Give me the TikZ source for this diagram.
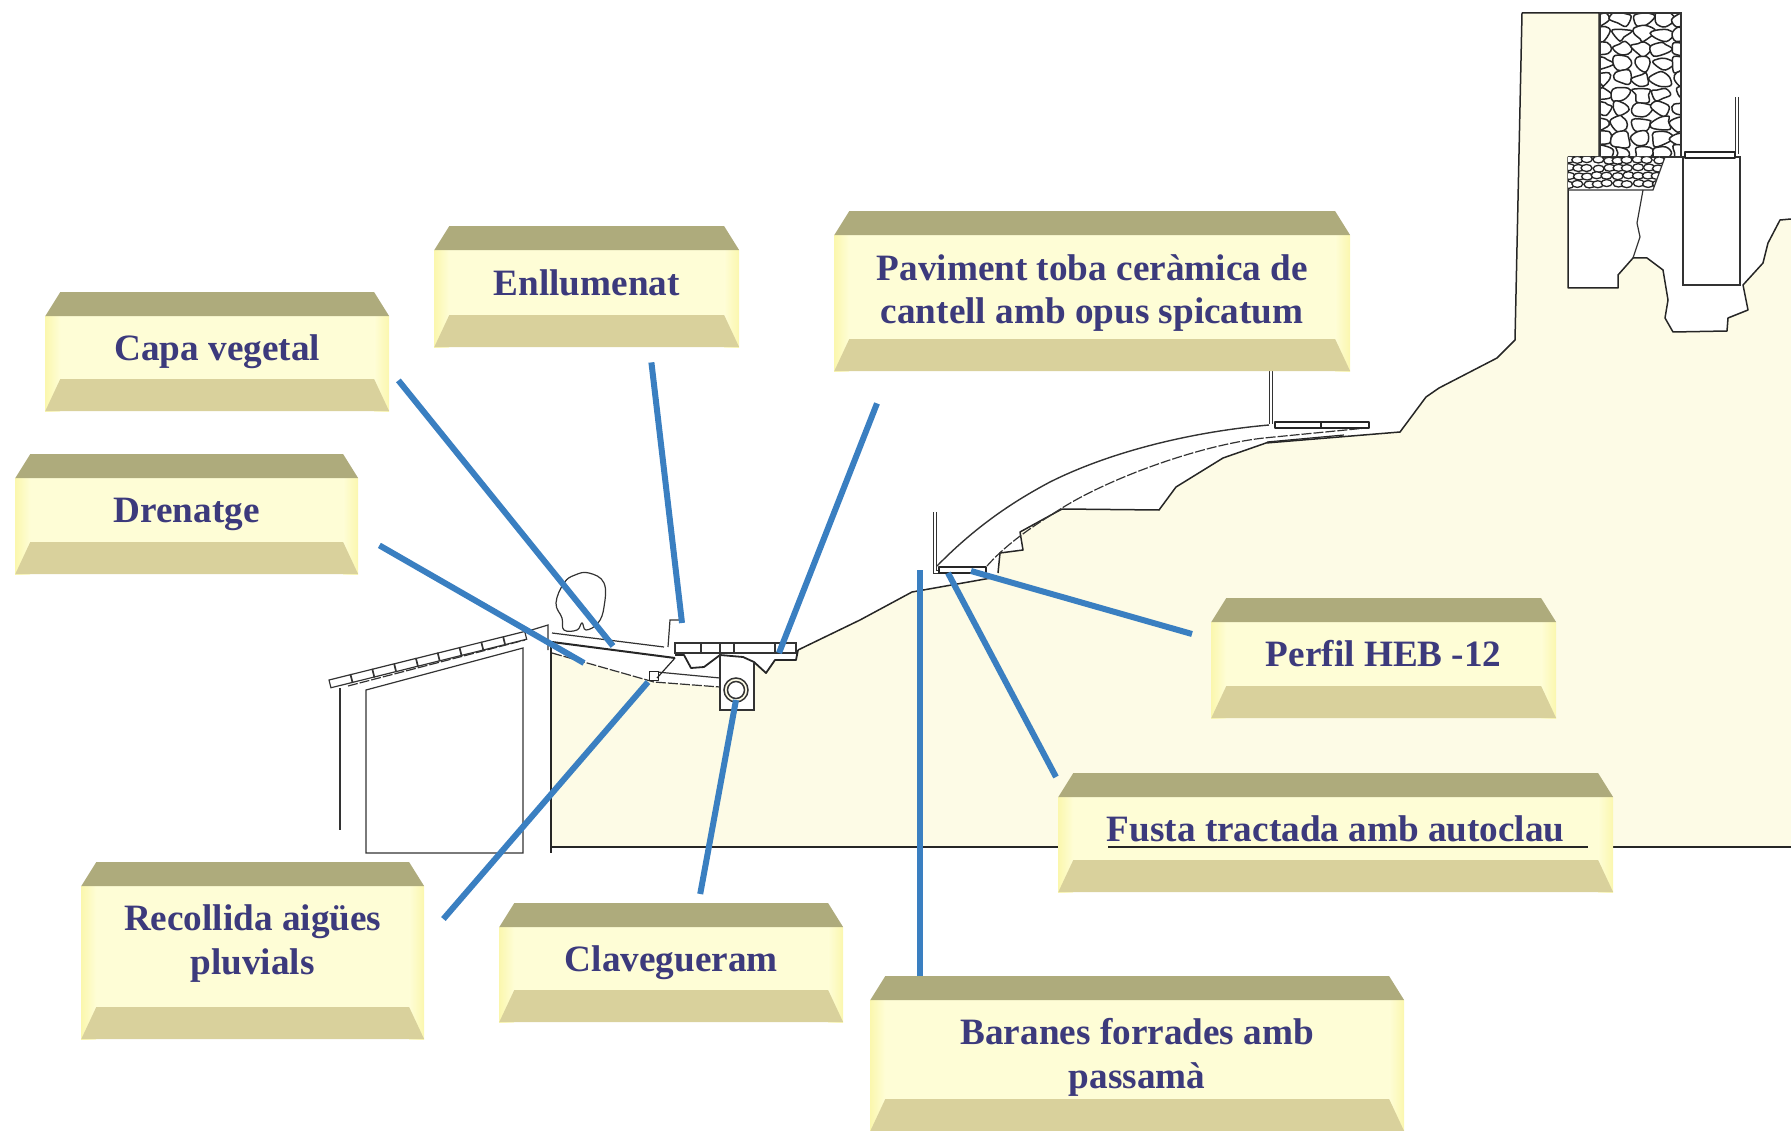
\documentclass[tikz,border=0pt]{standalone}
\usepackage{fontspec}
\setmainfont{Liberation Serif}
\definecolor{groundfill}{HTML}{FDFBE6}
\definecolor{bandtop}{HTML}{AEAB7C}
\definecolor{bandlow}{HTML}{D9D19C}
\definecolor{sideyellow}{HTML}{FBF7AE}
\definecolor{midyellow}{HTML}{FEFDD6}
\definecolor{labelblue}{HTML}{3C3A7C}
\definecolor{leaderblue}{HTML}{3A7FC1}
\newcommand{\rubble}[4]{% centre x, centre y, half width, half height
    \draw[stone] plot[smooth cycle,tension=0.6] coordinates {
        ({#1+#3+rand},{#2+0.3*rand}) ({#1+0.5*#3+rand},{#2+#4+rand}) ({#1-0.5*#3+rand},{#2+#4+rand})
        ({#1-#3+rand},{#2+0.3*rand}) ({#1-0.5*#3+rand},{#2-#4+rand}) ({#1+0.5*#3+rand},{#2-#4+rand})};
}
\tikzset{
    lbl/.style={rectangle,inner sep=0pt,align=center,text=labelblue,
        font=\fontsize{37.2}{43.5}\selectfont\bfseries,text height=26pt,text depth=9pt,
        path picture={
            \fill[midyellow] ([yshift=-24pt]path picture bounding box.north west) rectangle (path picture bounding box.south east);
            \shade[left color=sideyellow,right color=midyellow] ([yshift=-24pt]path picture bounding box.north west) rectangle ([xshift=15pt]path picture bounding box.south west);
            \shade[left color=midyellow,right color=sideyellow] ([shift={(-15pt,-24pt)}]path picture bounding box.north east) rectangle (path picture bounding box.south east);
            \fill[bandtop] ([xshift=15pt]path picture bounding box.north west) -- ([xshift=-15pt]path picture bounding box.north east)
                -- ([yshift=-24pt]path picture bounding box.north east) -- ([yshift=-24pt]path picture bounding box.north west) -- cycle;
            \fill[bandlow] (path picture bounding box.south west) -- (path picture bounding box.south east)
                -- ([shift={(-15pt,32pt)}]path picture bounding box.south east) -- ([shift={(15pt,32pt)}]path picture bounding box.south west) -- cycle;
        }},
    twolines/.style={text height=69.5pt,text depth=4.5pt},
    leader/.style={draw=leaderblue,line width=6pt},
    sketch/.style={draw=black!85,line width=1.5pt,line join=round},
    thinline/.style={draw=black!80,line width=1.2pt},
    dashline/.style={draw=black!80,line width=1.2pt,dash pattern=on 10pt off 2pt},
    stone/.style={draw=black!85,line width=1.5pt,fill=white},
}
\begin{document}
\begin{tikzpicture}[x=1pt,y=-1pt]
    \useasboundingbox (0,0) rectangle (1791,1131);

    % ground
    \fill[groundfill] (551,652) -- (582,662) -- (654,682) -- (720,687) -- (720,711) -- (754,711) -- (754,663) -- (766,673)
        -- (775,660) -- (796,659) -- (798,650) -- (860,620) -- (912,592) -- (991,578) -- (998,573) -- (1000,553) -- (1023,550)
        -- (1020,532) -- (1062,509) -- (1159,510) -- (1176,487) -- (1223,458) -- (1266,443) -- (1400,432) -- (1426,397) -- (1439,388)
        -- (1497,358) -- (1515,340) -- (1522,13) -- (1599,13) -- (1599,157) -- (1568,157) -- (1568,288) -- (1618,288) -- (1618,275)
        -- (1633,258) -- (1647,258) -- (1663,270) -- (1668,300) -- (1665,318) -- (1673,332) -- (1727,331) -- (1728,318) -- (1748,310)
        -- (1743,285) -- (1763,263) -- (1768,243) -- (1780,220) -- (1791,219) -- (1791,847) -- (551,847) -- cycle;
    \draw[sketch,line width=2pt] (551,643) -- (551,853);
    \draw[sketch,line width=2pt] (551,847) -- (1791,847);

    % terrain profile
    \draw[sketch] (798,650) -- (860,620) -- (912,592) -- (991,578);
    \draw[sketch] (998,573) -- (1000,553) -- (1023,550) -- (1020,532) -- (1062,509) -- (1159,510) -- (1176,487) -- (1223,458) -- (1266,443)
        -- (1400,432) -- (1426,397) -- (1439,388) -- (1497,358) -- (1515,340) -- (1522,13) -- (1599,13) -- (1599,157) -- (1568,157)
        -- (1568,288) -- (1618,288) -- (1618,275) -- (1633,258) -- (1647,258) -- (1663,270) -- (1668,300) -- (1665,318) -- (1673,332)
        -- (1727,331) -- (1728,318) -- (1748,310) -- (1743,285) -- (1763,263) -- (1768,243) -- (1780,220) -- (1791,219);

    % masonry
    \pgfmathsetseed{11}
    \begin{scope}
        \clip (1600,13) rectangle (1681,157);
        \foreach \y in {18,33,...,155} {
            \foreach \x in {1600,1620,...,1690} {
                \rubble{\x+3*rand}{\y+2*rand}{9+4*rnd}{6+2*rnd}
            }
        }
    \end{scope}
    \draw[thinline] (1600,13) rectangle (1681,157);
    \begin{scope}
        \clip (1568,157) -- (1665,157) -- (1653,190) -- (1568,190) -- cycle;
        \foreach \y in {160,168,...,190} {
            \foreach \x in {1568,1578,...,1665} {
                \draw[stone,line width=1.3pt] ({\x+1.5*rand},{\y+rand}) ellipse (5.5 and 3.5);
            }
        }
    \end{scope}
    \draw[thinline] (1643,190) -- (1637,223) -- (1640,237) -- (1633,258);
    \draw[thinline] (1665,157) -- (1653,190) -- (1568,190);
    \draw[thinline] (1683,157) rectangle (1740,285);
    \draw[thinline,line width=1.5pt,double=white,double distance=1.5pt] (1737,97) -- (1737,154);
    \draw[sketch,fill=white,line width=1.2pt] (1685,152) rectangle (1735,158);

    % arch and stairs
    \draw[thinline,line width=1.4pt] (937,566) .. controls (980,522) and (1020,498) .. (1050,482) .. controls (1110,452) and (1190,432) .. (1269,425);
    \draw[dashline] (987,566) .. controls (1010,540) and (1040,522) .. (1062,508) .. controls (1110,478) and (1200,445) .. (1264,438) -- (1366,428);
    \draw[thinline,line width=1.5pt,double=white,double distance=1.5pt] (935,512) -- (935,572) -- (939,572);
    \draw[thinline,line width=1.5pt,double=white,double distance=1.5pt] (1271,370) -- (1271,424);
    \draw[sketch,fill=white,line width=1.2pt] (939,567) rectangle (986,573);
    \draw[sketch,fill=white,line width=1.2pt] (1275,422) rectangle (1369,428);
    \draw[sketch,line width=1.2pt] (1321,422) -- (1321,428);
    \draw[sketch,line width=1.2pt] (1267,442) -- (1344,435);

    % building and roof
    \draw[thinline,line width=1.3pt] (340,688) -- (340,830);
    \draw[thinline] (366,853) -- (366,690) -- (523,648) -- (523,853) -- cycle;
    \draw[dashline] (348,686) -- (525,640);
    \draw[thinline] (525,632) -- (548,625) -- (548,650);
    \foreach \t in {0,1,...,8} {
        \draw[thinline,fill=white,rotate around={14:({329+\t*21.8},{680-\t*5.4})}] ({329+\t*21.8},{680-\t*5.4}) rectangle ++(22,8);
    }

    % tree
    \draw[thinline] plot[smooth cycle,tension=0.7] coordinates {(564,630) (562,618) (556,603) (564,583) (575,575) (589,573) (604,583) (604,607) (598,623) (586,630) (582,623) (577,630)};

    % garden layers and paving
    \draw[thinline] (552,633) -- (664,647);
    \draw[sketch,line width=2pt] (552,642) -- (675,658);
    \draw[dashline] (552,653) -- (654,682) -- (720,687);
    \draw[thinline] (657,672) -- (720,678);
    \draw[sketch,fill=white,line width=1pt] (649,671) rectangle (658,680);
    \draw[sketch,line width=1.2pt] (657,678) -- (675,658);
    \draw[thinline] (668,647) -- (670,620) -- (682,620);
    \draw[thinline,fill=white] (675,643) rectangle (796,653);
    \foreach \x in {701,720,734,775} {
        \draw[thinline] (\x,643) -- (\x,653);
    }
    \draw[sketch,line width=1.8pt] (675,655) -- (684,655) -- (691,668) -- (704,667) -- (720,655) -- (743,657) -- (754,662) -- (766,673) -- (775,660) -- (796,660) -- (798,650);

    % sewer
    \draw[thinline] (720,653) -- (720,710) -- (754,710) -- (754,663);
    \draw[thinline,line width=1.5pt,fill=groundfill] (736,690) circle (12);
    \draw[thinline,line width=1.5pt,fill=white] (736,690) circle (8.5);

    % labels
    \begin{scope}[every node/.style={lbl,anchor=north west}]
        \node[minimum width=344pt,minimum height=119pt] (capa) at (45,292) {Capa vegetal};
        \node[minimum width=343pt,minimum height=120pt] (drenatge) at (15,454) {Drenatge};
        \node[minimum width=305pt,minimum height=121pt] (enllumenat) at (434,226) {Enllumenat};
        \node[twolines,minimum width=516pt,minimum height=160pt] (paviment) at (834,211) {Paviment toba ceràmica de\\cantell amb opus spicatum};
        \node[minimum width=345pt,minimum height=120pt] (perfil) at (1211,598) {Perfil HEB -12};
        \node[minimum width=555pt,minimum height=119pt] (fusta) at (1058,773) {Fusta tractada amb autoclau};
        \node[twolines,text depth=22.5pt,minimum width=343pt,minimum height=177pt] (recollida) at (81,862) {Recollida aigües\\pluvials};
        \node[minimum width=344pt,minimum height=119pt] (clavegueram) at (499,903) {Clavegueram};
        \node[twolines,text depth=0.5pt,minimum width=534pt,minimum height=155pt] (baranes) at (870,976) {Baranes forrades amb\\passamà};
    \end{scope}
    \draw[sketch,line width=2pt] (1108,847) -- (1588,847);

    % targets on the section
    \coordinate (capaEnd) at (613,646);
    \coordinate (drenatgeEnd) at (584,663);
    \coordinate (enllumenatEnd) at (682,623);
    \coordinate (pavimentEnd) at (779,653);
    \coordinate (perfilEnd) at (971,571);
    \coordinate (fustaEnd) at (948,573);
    \coordinate (recollidaEnd) at (648,682);
    \coordinate (clavegueramEnd) at (736,700);
    \coordinate (baranesEnd) at (920,570);

    \draw[leader] ([shift={(9pt,31pt)}]capa.south east) -- (capaEnd);
    \draw[leader] ([shift={(21pt,29pt)}]drenatge.south east) -- (drenatgeEnd);
    \draw[leader] ([shift={(-88pt,-15pt)}]enllumenat.south east) -- (enllumenatEnd);
    \draw[leader] ([shift={(43pt,-32pt)}]paviment.south west) -- (pavimentEnd);
    \draw[leader] ([shift={(-19pt,-36pt)}]perfil.north west) -- (perfilEnd);
    \draw[leader] ([shift={(-2pt,-4pt)}]fusta.north west) -- (fustaEnd);
    \draw[leader] ([shift={(19pt,-57pt)}]recollida.north east) -- (recollidaEnd);
    \draw[leader] ([shift={(29pt,9pt)}]clavegueram.north) -- (clavegueramEnd);
    \draw[leader] ([xshift=50pt]baranes.north west) -- (baranesEnd);
\end{tikzpicture}
\end{document}
